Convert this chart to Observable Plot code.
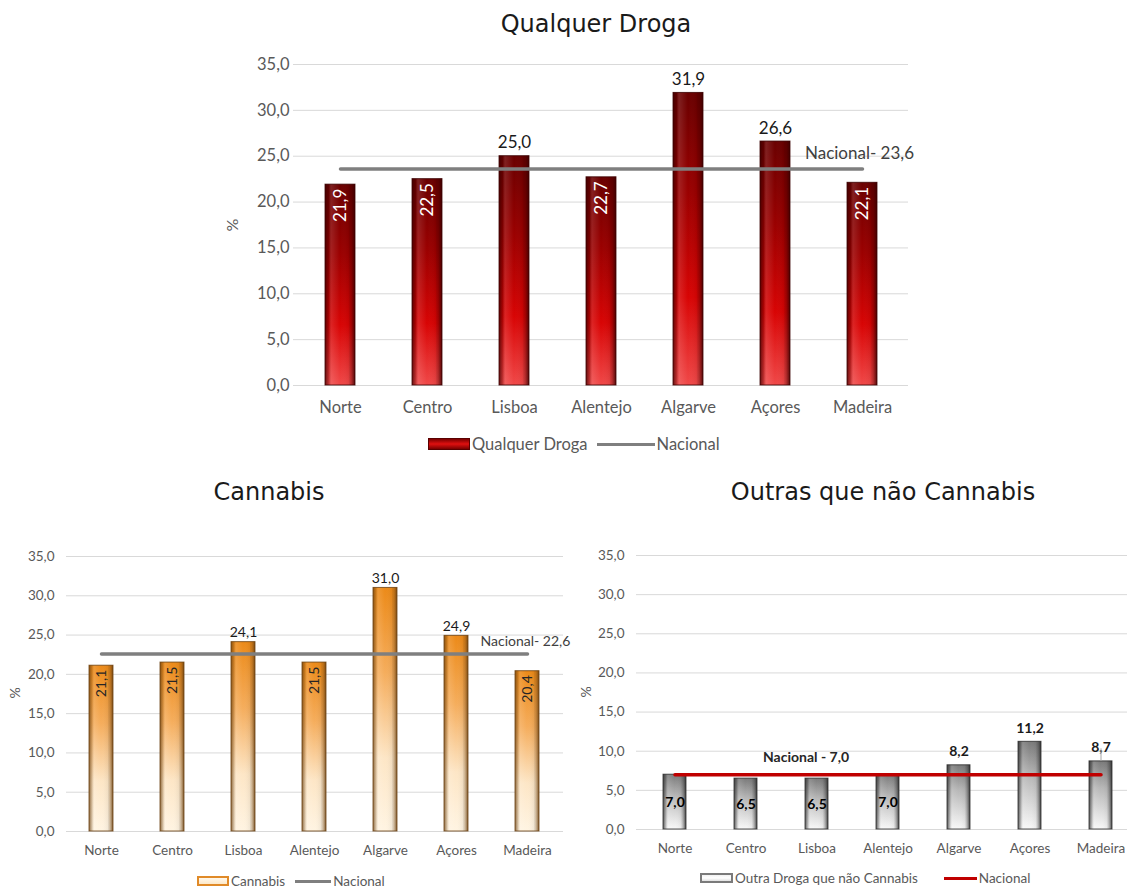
<!DOCTYPE html>
<html><head><meta charset="utf-8">
<script src="https://cdn.jsdelivr.net/npm/d3@7"></script>
<script src="https://cdn.jsdelivr.net/npm/@observablehq/plot@0.6"></script>
<style>
html,body{margin:0;padding:0;overflow:hidden;background:#fff;}
#page{position:relative;width:1127px;height:888px;overflow:hidden;font-family:Lato,sans-serif;}
.abs{position:absolute;}
.abs svg{max-width:none !important;}
.title{font-family:"DejaVu Sans",sans-serif;font-size:24px;color:#1a1a1a;transform:translate(-50%,-50%);white-space:nowrap;}
.legend{display:flex;align-items:center;color:#595959;white-space:nowrap;transform:translateY(-50%);font-family:Lato,sans-serif;}
.ylab{font-family:Lato,sans-serif;color:#595959;transform:translate(-50%,-50%) rotate(-90deg);}
</style></head>
<body><div id="page"></div>
<script>
const regions = ["Norte","Centro","Lisboa","Alentejo","Algarve","Açores","Madeira"];
const qualquerDroga = [21.9,22.5,25.0,22.7,31.9,26.6,22.1];
const cannabis = [21.1,21.5,24.1,21.5,31.0,24.9,20.4];
const outras = [7.0,6.5,6.5,7.0,8.2,11.2,8.7];
const nacionalQualquer = 23.6;
const nacionalCannabis = 22.6;
const nacionalOutras = 7.0;
const yTicks = [0,5,10,15,20,25,30,35];
const titles = ["Qualquer Droga","Cannabis","Outras que não Cannabis"];
const legendBars = ["Qualquer Droga","Cannabis","Outra Droga que não Cannabis"];

const fmt = v => d3.format(".1f")(v).replace(".", ",");
const page = document.getElementById("page");

function defsMark(html) {
  return () => {
    const g = document.createElementNS("http://www.w3.org/2000/svg","g");
    g.innerHTML = html;
    return g;
  };
}

function bevelDefs(id, stops, edge) {
  return defsMark(`<defs>
    <linearGradient id="${id}v" x1="0" y1="0" x2="0" y2="1">${stops.map(([o,c]) => `<stop offset="${o}" stop-color="${c}"/>`).join("")}</linearGradient>
    <linearGradient id="${id}h" x1="0" y1="0" x2="1" y2="0">
      <stop offset="0" stop-color="${edge}" stop-opacity="0.75"/>
      <stop offset="0.13" stop-color="${edge}" stop-opacity="0.25"/>
      <stop offset="0.22" stop-color="#ffffff" stop-opacity="0.12"/>
      <stop offset="0.5" stop-color="#ffffff" stop-opacity="0"/>
      <stop offset="0.78" stop-color="#000000" stop-opacity="0.05"/>
      <stop offset="0.87" stop-color="${edge}" stop-opacity="0.3"/>
      <stop offset="1" stop-color="${edge}" stop-opacity="0.85"/>
    </linearGradient></defs>`);
}

function chart(o) {
  const data = regions.map((r,i) => ({region:r, value:o.values[i]}));
  const inside = data.filter(d => d.value <= o.nat);
  const above = data.filter(d => d.value > o.nat);
  const marks = [
    bevelDefs(o.id, o.stops, o.edge),
    Plot.gridY(yTicks, {stroke:"#d9d9d9", strokeOpacity:1, strokeWidth:1}),
    Plot.axisY({ticks: yTicks, tickFormat: fmt, tickSize:0, tickPadding:o.ypad, label:null, fontSize:o.fs, fill:"#595959"}),
    Plot.axisX({tickSize:0, tickPadding:o.xpad, label:null, fontSize:o.fs, fill:"#595959"}),
    Plot.barY(data, {x:"region", y:"value", fill:`url(#${o.id}v)`}),
    Plot.barY(data, {x:"region", y:"value", fill:`url(#${o.id}h)`, stroke:o.edge, strokeWidth:1, strokeOpacity:0.8}),
    Plot.lineY(data, {x:"region", y: () => o.nat, stroke:o.lineColor, strokeWidth:3.5})
  ];
  if (o.insideMode === "rotated") {
    marks.push(Plot.text(inside, {x:"region", y:"value", text: d => fmt(d.value), rotate:-90, textAnchor:"end", dy:4, fill:o.insideColor, fontSize:o.lfs}));
  } else {
    marks.push(Plot.text(inside, {x:"region", y: d => d.value/2, text: d => fmt(d.value), fill:o.insideColor, fontSize:o.lfs, fontWeight:"bold"}));
  }
  marks.push(Plot.text(above, {x:"region", y:"value", text: d => fmt(d.value), lineAnchor:"bottom", dy:o.aboveDy, fill:"#1a1a1a", fontSize:o.lfs, fontWeight:o.bold ? "bold" : "normal"}));
  if (o.leader) {
    marks.push(Plot.ruleX(data.filter(d => d.region === o.leader), {x:"region", y1:"value", y2: d => d.value + 1.6, stroke:"#a6a6a6", strokeWidth:1}));
  }
  marks.push(Plot.text([o.nat], {x: () => o.natAt, y: d => d, text: d => o.natText + fmt(d), dx:o.natDx, dy:o.natDy, fill:o.natColor, fontSize:o.lfs, fontWeight:o.bold ? "bold" : "normal"}));

  const svg = Plot.plot({
    width:o.width, height:o.height,
    marginLeft:o.ml, marginRight:o.mr, marginTop:o.mt, marginBottom:o.mb,
    style:{fontFamily:"Lato, sans-serif", background:"transparent", overflow:"visible", maxWidth:"none"},
    x:{domain:regions, paddingInner:o.pad, paddingOuter:o.pad/2},
    y:{domain:[0,35]},
    marks
  });
  const div = document.createElement("div");
  div.className = "abs";
  div.style.left = o.left + "px"; div.style.top = o.top + "px";
  div.style.width = o.width + "px"; div.style.height = o.height + "px";
  div.appendChild(svg);
  page.appendChild(div);
}

function addTitle(text, x, y) {
  const d = document.createElement("div");
  d.className = "abs title"; d.style.left = x + "px"; d.style.top = y + "px";
  d.textContent = text; page.appendChild(d);
}
function addYLab(x, y, fs) {
  const d = document.createElement("div");
  d.className = "abs ylab"; d.style.left = x + "px"; d.style.top = y + "px"; d.style.fontSize = fs + "px";
  d.textContent = "%"; page.appendChild(d);
}
function addLegend(x, y, fs, swatchCss, sw, sh, label, lineColor, lw, gap) {
  const d = document.createElement("div");
  d.className = "abs legend"; d.style.left = x + "px"; d.style.top = y + "px"; d.style.fontSize = fs + "px";
  d.innerHTML = `<span style="display:inline-block;width:${sw}px;height:${sh}px;${swatchCss};box-sizing:border-box;margin-right:2px"></span><span>${label}</span>` +
    `<span style="display:inline-block;width:${lw}px;height:3px;background:${lineColor};margin-left:${gap}px;margin-right:2px"></span><span>Nacional</span>`;
  page.appendChild(d);
}

// Top chart
chart({id:"qd", values:qualquerDroga, nat:nacionalQualquer,
  stops:[[0,"#6a0000"],[0.35,"#9c0000"],[0.7,"#d80404"],[1,"#f04848"]], edge:"#3a0000",
  lineColor:"#7f7f7f", insideMode:"rotated", insideColor:"#ffffff",
  left:220, top:50, width:700, height:370, ml:73, mr:12, mt:14, mb:35, pad:0.66,
  fs:16.5, lfs:17, xpad:16, ypad:4, aboveDy:-8, natAt:"Madeira", natText:"Nacional- ", natDx:-3, natDy:-16, natColor:"#404040", bold:false});
addTitle(titles[0], 596, 24);
addYLab(231, 225, 16);
addLegend(428, 444, 16.5, "background:linear-gradient(#7a0000,#e01010 50%,#7a0000);border:1px solid #5a0000", 42, 12, legendBars[0], "#7f7f7f", 58, 9);

// Cannabis
chart({id:"ca", values:cannabis, nat:nacionalCannabis,
  stops:[[0,"#ec8a18"],[0.35,"#f5ad5c"],[0.7,"#fde6c6"],[1,"#fff4e2"]], edge:"#6a4010",
  lineColor:"#7f7f7f", insideMode:"rotated", insideColor:"#262626",
  left:0, top:540, width:570, height:330, ml:66, mr:7, mt:16, mb:39, pad:0.66,
  fs:13.5, lfs:14, xpad:14, ypad:12, aboveDy:-5, natAt:"Madeira", natText:"Nacional- ", natDx:-2, natDy:-12, natColor:"#404040", bold:false});
addTitle(titles[1], 269, 492);
addYLab(14, 693, 14);
addLegend(197, 881, 13.5, "background:linear-gradient(#fff8ec,#fde8c8);border:2px solid #e08a28", 32, 10, legendBars[1], "#7f7f7f", 36, 10);

// Outras
chart({id:"ou", values:outras, nat:nacionalOutras,
  stops:[[0,"#7a7a7a"],[0.4,"#b8b8b8"],[1,"#f8f8f8"]], edge:"#2a2a2a",
  lineColor:"#c00000", insideMode:"center", insideColor:"#000000",
  left:560, top:540, width:580, height:330, ml:76, mr:1, mt:15, mb:41, pad:0.67,
  fs:13.5, lfs:14, xpad:14, ypad:12, aboveDy:-9, leader:"Madeira", natAt:"Lisboa", natText:"Nacional - ", natDx:-11, natDy:-17, natColor:"#262626", bold:true});
addTitle(titles[2], 883, 492);
addYLab(585, 692, 14);
addLegend(700, 878, 13.5, "background:linear-gradient(#f2f2f2,#ffffff 50%,#e0e0e0);border:2px solid #7a7a7a", 33, 10, legendBars[2], "#c00000", 33, 26);
</script></body></html>
